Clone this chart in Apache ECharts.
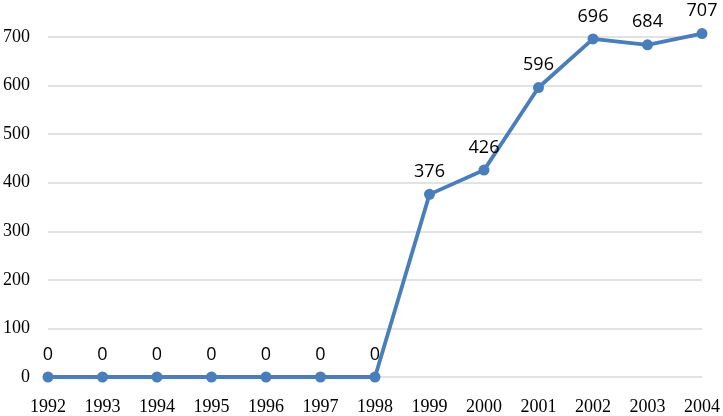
<!DOCTYPE html>
<html><head><meta charset="utf-8">
<script src="https://cdn.jsdelivr.net/npm/echarts@6/dist/echarts.min.js"></script>
<style>html,body{margin:0;padding:0;background:#fff}#c{width:723px;height:416px}</style>
</head><body><div id="c"></div>
<script>
const years = ['1992','1993','1994','1995','1996','1997','1998','1999','2000','2001','2002','2003','2004'];
const values = [0,0,0,0,0,0,0,376,426,596,696,684,707];
const yTicks = [0,100,200,300,400,500,600,700];

const chart = echarts.init(document.getElementById('c'));
chart.setOption({
  animation: false,
  backgroundColor: '#fff',
  grid: {left: 45, right: 19, top: 37, bottom: 35, containLabel: false},
  xAxis: {
    type: 'category', data: years, boundaryGap: false,
    axisLine: {show: false}, axisTick: {show: false},
    axisLabel: {color: '#000', fontFamily: 'Liberation Serif', fontSize: 18, margin: 21}
  },
  yAxis: {
    type: 'value', min: yTicks[0], max: yTicks[yTicks.length-1], interval: 100,
    axisLine: {show: false}, axisTick: {show: false},
    axisLabel: {color: '#000', fontFamily: 'Liberation Serif', fontSize: 18, margin: 18},
    splitLine: {lineStyle: {color: '#d9d9d9', width: 1.5}}
  },
  series: [{
    type: 'line', data: values, clip: false,
    symbol: 'circle', symbolSize: 11,
    lineStyle: {color: '#4a7ebb', width: 3.8},
    itemStyle: {color: '#4a7ebb'},
    label: {show: true, position: 'top', distance: 8, color: '#000', fontFamily: 'Open Sans', fontSize: 18}
  }]
});
</script></body></html>
